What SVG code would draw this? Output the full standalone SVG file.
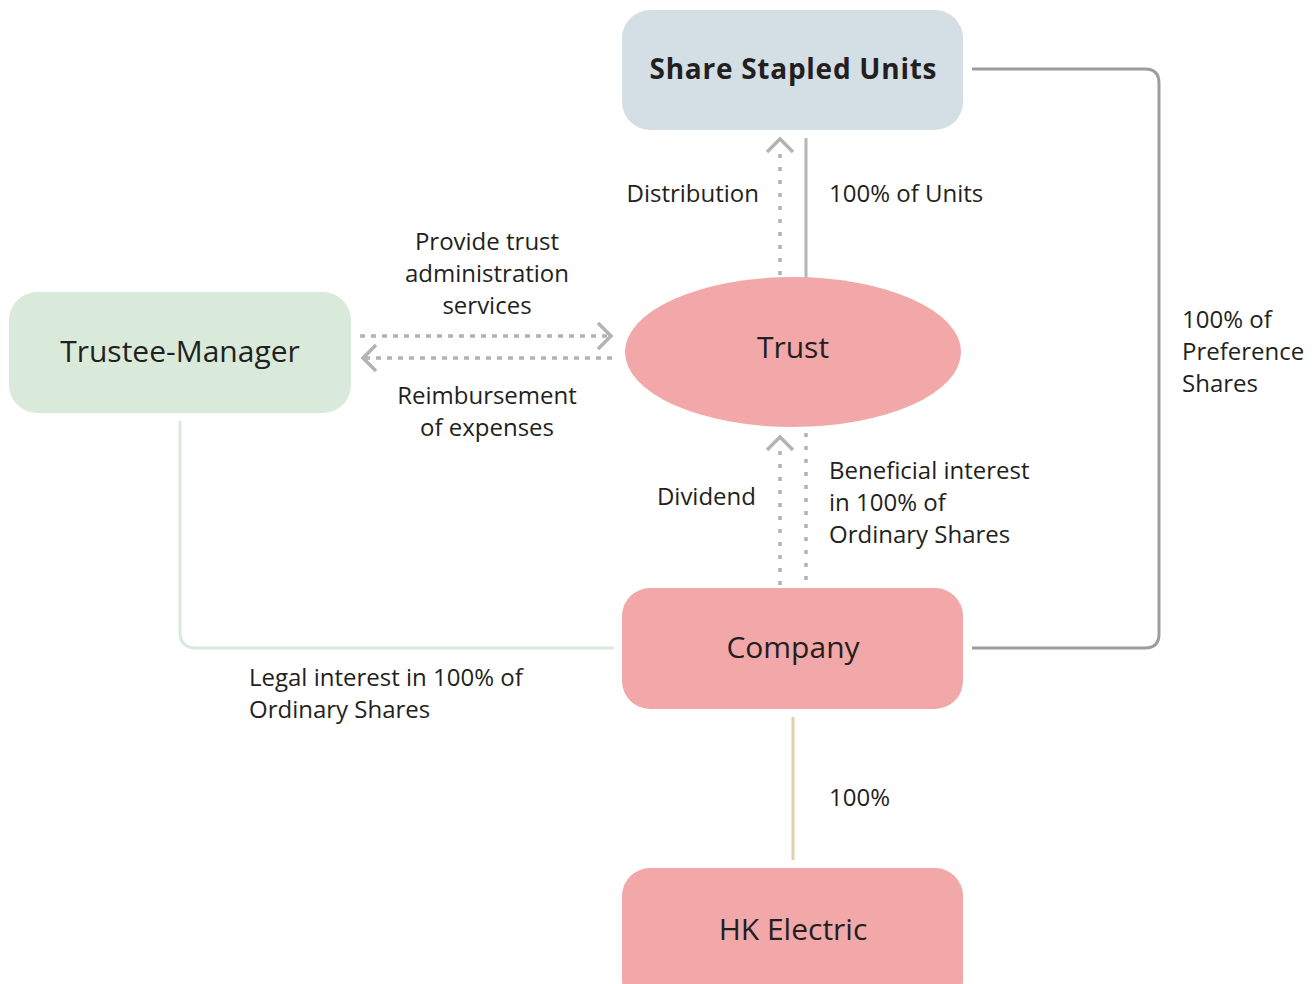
<svg xmlns="http://www.w3.org/2000/svg" width="1314" height="984" viewBox="0 0 1314 984">
<style>
.lbl{font-family:"Open Sans","Noto Sans",sans-serif;font-size:24px;fill:#231f20}
.nt{font-family:"Open Sans","Noto Sans",sans-serif;font-size:30px;font-weight:500;fill:#231f20;text-anchor:middle}
.ntb{font-family:"Open Sans","Noto Sans",sans-serif;font-size:28px;font-weight:bold;fill:#231f20;text-anchor:middle}
.dot{stroke:#b3b3b3;stroke-width:3.5;fill:none}
.v{stroke-dasharray:4 9}
.h{stroke-dasharray:5 6}
.chev{stroke:#b3b3b3;stroke-width:3.5;fill:none}
</style>
<rect width="1314" height="984" fill="#ffffff"/>
<g id="connectors">
  <line class="dot v" x1="780" y1="275" x2="780" y2="146"/>
  <polyline class="chev" points="767,152 780,139 793,152"/>
  <line x1="806" y1="138" x2="806" y2="279" stroke="#b5b5b5" stroke-width="3"/>
  <line class="dot h" x1="360" y1="336" x2="608" y2="336"/>
  <polyline class="chev" points="598,323 611,336 598,349"/>
  <line class="dot h" x1="612" y1="358" x2="366" y2="358"/>
  <polyline class="chev" points="376,345 363,358 376,371"/>
  <line class="dot v" x1="780" y1="585" x2="780" y2="444"/>
  <polyline class="chev" points="767,450 780,437 793,450"/>
  <line class="dot v" x1="806" y1="433" x2="806" y2="585"/>
  <path d="M972,69 H1145 Q1159,69 1159,83 V634 Q1159,648 1145,648 H972" stroke="#9d9d9d" stroke-width="3" fill="none"/>
  <path d="M180,421 V632 Q180,648 196,648 H614" stroke="#d9eadb" stroke-width="3" fill="none"/>
  <line x1="793" y1="717" x2="793" y2="860" stroke="#e5cfae" stroke-width="3"/>
</g>
<g id="share-stapled-units">
  <rect x="622" y="10" width="341" height="120" rx="28" fill="#d3dee5"/>
  <text class="ntb" x="793" y="79" textLength="287" lengthAdjust="spacing">Share Stapled Units</text>
</g>
<g id="trust">
  <ellipse cx="793" cy="352" rx="168" ry="75" fill="#f2a7a8"/>
  <text class="nt" x="793" y="358">Trust</text>
</g>
<g id="trustee-manager">
  <rect x="9" y="292" width="342" height="121" rx="28" fill="#d9eadb"/>
  <text class="nt" x="180" y="362">Trustee-Manager</text>
</g>
<g id="company">
  <rect x="622" y="588" width="341" height="121" rx="28" fill="#f2a7a8"/>
  <text class="nt" x="793" y="658">Company</text>
</g>
<g id="hk-electric">
  <rect x="622" y="868" width="341" height="140" rx="28" fill="#f2a7a8"/>
  <text class="nt" x="793" y="940">HK Electric</text>
</g>
<g id="labels">
  <text class="lbl" x="759" y="202" text-anchor="end">Distribution</text>
  <text class="lbl" x="829" y="202">100% of Units</text>
  <text class="lbl" x="487" y="250" text-anchor="middle">Provide trust</text>
  <text class="lbl" x="487" y="282" text-anchor="middle">administration</text>
  <text class="lbl" x="487" y="314" text-anchor="middle">services</text>
  <text class="lbl" x="487" y="404" text-anchor="middle">Reimbursement</text>
  <text class="lbl" x="487" y="436" text-anchor="middle">of expenses</text>
  <text class="lbl" x="756" y="505" text-anchor="end">Dividend</text>
  <text class="lbl" x="829" y="479">Beneficial interest</text>
  <text class="lbl" x="829" y="511">in 100% of</text>
  <text class="lbl" x="829" y="543">Ordinary Shares</text>
  <text class="lbl" x="1182" y="328">100% of</text>
  <text class="lbl" x="1182" y="360">Preference</text>
  <text class="lbl" x="1182" y="392">Shares</text>
  <text class="lbl" x="249" y="686">Legal interest in 100% of</text>
  <text class="lbl" x="249" y="718">Ordinary Shares</text>
  <text class="lbl" x="829" y="806">100%</text>
</g>
</svg>
